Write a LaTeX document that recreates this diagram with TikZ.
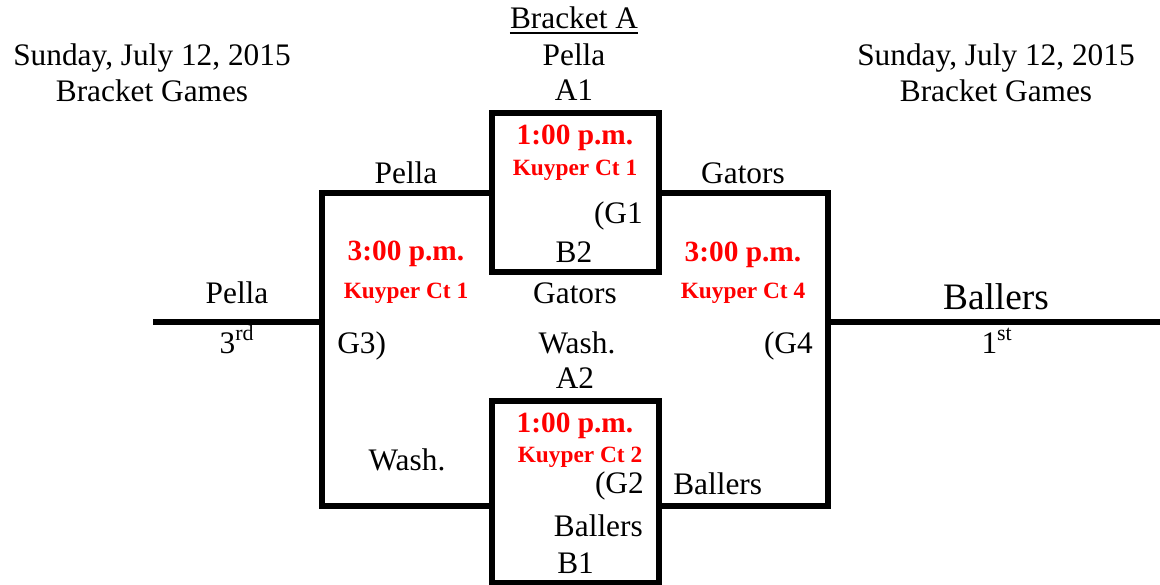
\documentclass[tikz,border=0pt]{standalone}
\usepackage{fontspec}
\setmainfont{Liberation Serif}
\usetikzlibrary{calc}
\definecolor{bred}{RGB}{255,0,0}
\begin{document}
\begin{tikzpicture}[x=0.75pt,y=-0.75pt,
  lbl/.style={inner sep=0pt,anchor=base,font=\fontsize{23.5}{28}\selectfont},
  bigl/.style={lbl,font=\fontsize{28}{33}\selectfont},
  timel/.style={lbl,text=bred,font=\fontsize{22}{26}\selectfont\bfseries},
  courtl/.style={lbl,text=bred,font=\fontsize{17.5}{21}\selectfont\bfseries},
  bline/.style={line width=4pt,line join=miter}]
\useasboundingbox (0,0) rectangle (1160,585);

% coordinates
\coordinate (t1) at (492,113); \coordinate (t2) at (659,113);
\coordinate (t3) at (659,272); \coordinate (t4) at (492,272);
\coordinate (b1) at (492,401); \coordinate (b2) at (659,401);
\coordinate (b3) at (659,583); \coordinate (b4) at (492,583);
\coordinate (lt) at (492,193); \coordinate (lb) at (492,506);
\coordinate (rt) at (659,193); \coordinate (rb) at (659,506);
\coordinate (lv1) at (322,193); \coordinate (lv2) at (322,506); \coordinate (lm) at (322,322);
\coordinate (rv1) at (828,193); \coordinate (rv2) at (828,506); \coordinate (rm) at (828,322);
\coordinate (lend) at (153,322); \coordinate (rend) at (1160,322);

% lines
\draw[bline] (t1) -- (t2) -- (t3) -- (t4) -- cycle;
\draw[bline] (b1) -- (b2) -- (b3) -- (b4) -- cycle;
\draw[bline] (lt) -- (lv1) -- (lv2) -- (lb);
\draw[bline] (rt) -- (rv1) -- (rv2) -- (rb);
\draw[bline] (lend) -- (lm);
\draw[bline] (rm) -- (rend);

% headers
\node[lbl] (h1a) at (152,65) {Sunday, July 12, 2015};
\node[lbl] (h1b) at (152,102) {Bracket Games};
\node[lbl] (h2a) at (996,65) {Sunday, July 12, 2015};
\node[lbl] (h2b) at (996,102) {Bracket Games};
\node[lbl] (ba) at (574,29) {Bracket A};
\draw[line width=1.2pt] ($(ba.base west)+(0,4)$) -- ($(ba.base east)+(0,4)$);
\node[lbl] (pa) at (574,65) {Pella};
\node[lbl] (a1) at (574,101) {A1};

% top box
\node[timel] (g1t) at (575,144) {1:00 p.m.};
\node[courtl] (g1c) at (575,175) {Kuyper Ct 1};
\node[lbl,anchor=base east] (g1) at (643,223) {(G1};
\node[lbl] (b2t) at (574,262) {B2};

% left bracket
\node[lbl] (lp) at (406,183) {Pella};
\node[timel] (g3t) at (406,260) {3:00 p.m.};
\node[courtl] (g3c) at (406,298) {Kuyper Ct 1};
\node[lbl,anchor=base west] (g3) at (337,353) {G3)};
\node[lbl] (wl) at (407,470) {Wash.};
\node[lbl] (pl) at (237,303) {Pella};
\node[lbl] (third) at (237,353) {3\textsuperscript{rd}};

% centre
\node[lbl] (gc) at (575,303) {Gators};
\node[lbl] (wc) at (577,353) {Wash.};
\node[lbl] (a2) at (575,388) {A2};

% right bracket
\node[lbl] (gr) at (743,183) {Gators};
\node[timel] (g4t) at (743,261) {3:00 p.m.};
\node[courtl] (g4c) at (743,298) {Kuyper Ct 4};
\node[lbl,anchor=base east] (g4) at (813,353) {(G4};
\node[lbl,anchor=base west] (br) at (673,494) {Ballers};
\node[bigl] (bw) at (996,309) {Ballers};
\node[lbl] (first) at (997,353) {1\textsuperscript{st}};

% bottom box
\node[timel] (g2t) at (575,432) {1:00 p.m.};
\node[courtl] (g2c) at (580,462) {Kuyper Ct 2};
\node[lbl,anchor=base east] (g2) at (644,493) {(G2};
\node[lbl,anchor=base east] (bb) at (643,536) {Ballers};
\node[lbl,anchor=base west] (b1t) at (557,573) {B1};
\end{tikzpicture}
\end{document}
